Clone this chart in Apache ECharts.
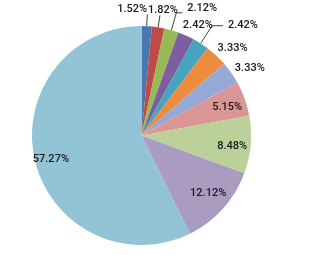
<!DOCTYPE html>
<html><head><meta charset="utf-8">
<script src="https://cdn.jsdelivr.net/npm/echarts@6/dist/echarts.min.js"></script>
<style>html,body{margin:0;padding:0;background:#fff}#c{width:313px;height:255px}</style>
</head><body><div id="c"></div>
<script>
const categories = ['A','B','C','D','E','F','G','H','I','J','K'];
const values = [1.52, 1.82, 2.12, 2.42, 2.42, 3.33, 3.33, 5.15, 8.48, 12.12, 57.27];
const labels = ['1.52%','1.82%','2.12%','2.42%','2.42%','3.33%','3.33%','5.15%','8.48%','12.12%','57.27%'];
const colors = ['#4A78B2','#BE4B48','#98B954','#7D5FA0','#47A4BE','#EB8C3E','#95A8D6','#D99694','#BCD19A','#AA9CC1','#93C4D6'];

// label groups
const nearIdx = [3,5,6];
const innerIdx = [7,8,10];
const lowerIdx = [9];
const raisedIdx = [0,1,2];
const leaderCfg = {
  0: {len: 12, len2: 0, dist: -30},
  1: {len: 12, len2: 0, dist: -12},
  2: {len: 18, len2: 6, dist: 5},
  4: {len: 21, len2: 11, dist: 5}
};
const font = {fontFamily: 'Roboto', fontSize: 11, fontWeight: 500, color: '#1a1a1a'};
const center = [141.5, 135.5];

const mainData = values.map((v, i) => {
  const d = {name: categories[i], value: v, itemStyle: {color: colors[i]}};
  if (leaderCfg[i]) {
    const c = leaderCfg[i];
    d.label = Object.assign({show: true, position: 'outside', distanceToLabelLine: c.dist, lineHeight: 10}, font);
    d.labelLine = {show: true, length: c.len, length2: c.len2, lineStyle: {color: '#404040', width: 1}};
  } else {
    d.label = {show: false};
    d.labelLine = {show: false};
  }
  return d;
});
function overlayData(idxs) {
  return values.map((v, i) => ({
    name: categories[i], value: v,
    itemStyle: {color: 'rgba(0,0,0,0)'},
    label: Object.assign({show: idxs.indexOf(i) >= 0, position: 'inside'}, font)
  }));
}
const fmt = p => labels[p.dataIndex];
const fmtMain = p => raisedIdx.indexOf(p.dataIndex) >= 0 ? labels[p.dataIndex] + '\n' : labels[p.dataIndex];
const noHide = {hideOverlap: false};
const overlay = (c, r, idxs) => ({type: 'pie', center: c, radius: [0, r], startAngle: 90, clockwise: true,
  avoidLabelOverlap: false, silent: true, z: 3, labelLayout: noHide, label: {formatter: fmt},
  labelLine: {show: false}, data: overlayData(idxs)});

const chart = echarts.init(document.getElementById('c'));
chart.setOption({
  animation: false,
  series: [
    {type: 'pie', center: center, radius: [0, 109.5], startAngle: 90, clockwise: true,
     avoidLabelOverlap: false, silent: true, labelLayout: noHide, label: {formatter: fmtMain}, data: mainData},
    overlay([140.5, 138], 178, innerIdx),
    overlay([140.5, 132], 176, lowerIdx),
    overlay([146.5, 140.5], 246, nearIdx)
  ]
});
</script></body></html>
